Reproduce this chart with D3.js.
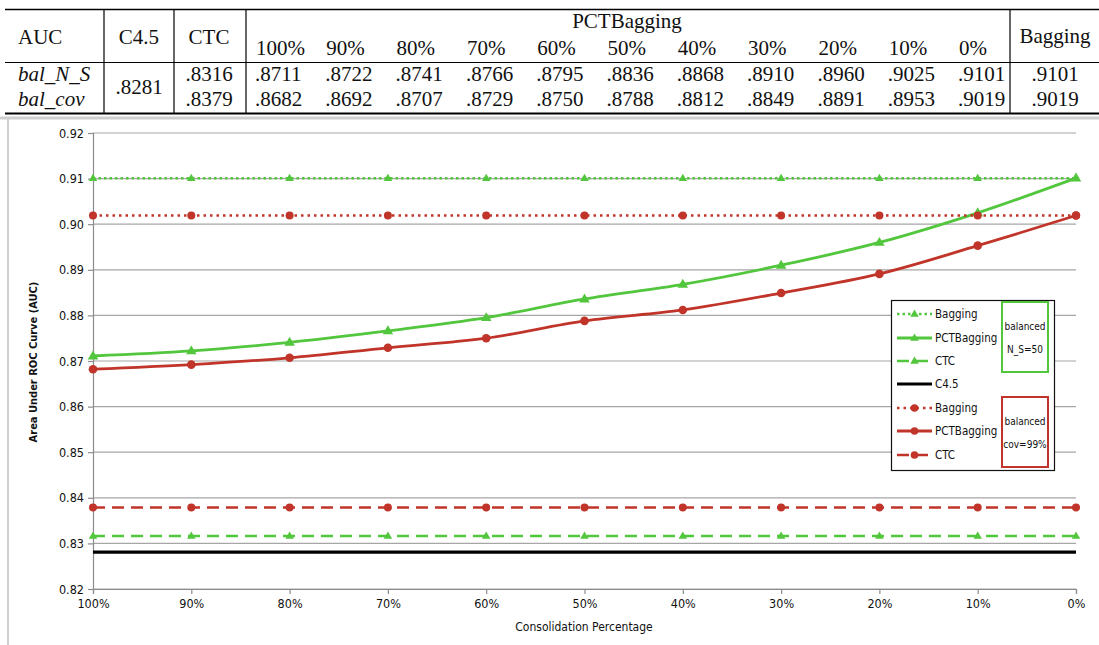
<!DOCTYPE html>
<html>
<head>
<meta charset="utf-8">
<script src="https://cdn.jsdelivr.net/npm/d3@7"></script>
<style>
  body { margin: 0; background: #fff; }
  svg { display: block; }
</style>
</head>
<body>
<div id="chart"></div>
<script>
// data
const categories = ["100%", "90%", "80%", "70%", "60%", "50%", "40%", "30%", "20%", "10%", "0%"];
const rowLabels = ["bal_N_S", "bal_cov"];
const c45Value = 0.8281;
const ctcValues = [0.8316, 0.8379];
const pctBalNS = [0.8711, 0.8722, 0.8741, 0.8766, 0.8795, 0.8836, 0.8868, 0.8910, 0.8960, 0.9025, 0.9101];
const pctBalCov = [0.8682, 0.8692, 0.8707, 0.8729, 0.8750, 0.8788, 0.8812, 0.8849, 0.8891, 0.8953, 0.9019];
const baggingValues = [0.9101, 0.9019];
const yTicks = [0.82, 0.83, 0.84, 0.85, 0.86, 0.87, 0.88, 0.89, 0.90, 0.91, 0.92];

const green = "#52c63c";
const red = "#c1342a";
const fmt4 = v => d3.format(".4f")(v).replace(/^0/, "");

const svg = d3.select("#chart").append("svg")
  .attr("width", 1099)
  .attr("height", 645);
svg.append("rect").attr("width", 1099).attr("height", 645).attr("fill", "#fff");

// ---------- table ----------
const tbl = svg.append("g")
  .style("font-family", "'Liberation Serif', 'Times New Roman', serif")
  .style("font-size", "21px")
  .attr("fill", "#111");

const colX = d3.scaleLinear().domain([0, 10]).range([256, 959]);

tbl.append("line").attr("x1", 5).attr("x2", 1099).attr("y1", 9.5).attr("y2", 9.5)
  .attr("stroke", "#000").attr("stroke-width", 1.6);
tbl.append("line").attr("x1", 5).attr("x2", 1099).attr("y1", 62.5).attr("y2", 62.5)
  .attr("stroke", "#000").attr("stroke-width", 1.2);
tbl.append("line").attr("x1", 5).attr("x2", 1099).attr("y1", 113.5).attr("y2", 113.5)
  .attr("stroke", "#000").attr("stroke-width", 1.8);
[104, 174, 246, 1010].forEach(x => {
  tbl.append("line").attr("x1", x).attr("x2", x).attr("y1", 9.5).attr("y2", 113.5)
    .attr("stroke", "#000").attr("stroke-width", 1.2);
});

tbl.append("text").attr("x", 18).attr("y", 44).text("AUC");
tbl.append("text").attr("x", 139).attr("y", 44).attr("text-anchor", "middle").text("C4.5");
tbl.append("text").attr("x", 209).attr("y", 44).attr("text-anchor", "middle").text("CTC");
tbl.append("text").attr("x", 627).attr("y", 28).attr("text-anchor", "middle").text("PCTBagging");
tbl.append("text").attr("x", 1055).attr("y", 43).attr("text-anchor", "middle").text("Bagging");
tbl.selectAll("text.pct").data(categories).enter().append("text")
  .attr("class", "pct")
  .attr("x", (d, i) => colX(i))
  .attr("y", 55)
  .text(d => d);

const rowY = [81, 106];
rowLabels.forEach((lab, r) => {
  tbl.append("text").attr("x", 18).attr("y", rowY[r]).style("font-style", "italic").text(lab);
  tbl.append("text").attr("x", 209).attr("y", rowY[r]).attr("text-anchor", "middle").text(fmt4(ctcValues[r]));
  tbl.append("text").attr("x", 1055).attr("y", rowY[r]).attr("text-anchor", "middle").text(fmt4(baggingValues[r]));
  tbl.selectAll("text.v" + r).data(r === 0 ? pctBalNS : pctBalCov).enter().append("text")
    .attr("class", "v" + r)
    .attr("x", (d, i) => colX(i) - 1)
    .attr("y", rowY[r])
    .text(d => fmt4(d));
});
tbl.append("text").attr("x", 139).attr("y", 94).attr("text-anchor", "middle").text(fmt4(c45Value));

// ---------- chart frame ----------
svg.append("line").attr("x1", 0).attr("x2", 1099).attr("y1", 118).attr("y2", 118)
  .attr("stroke", "#cfcfcf").attr("stroke-width", 3);
svg.append("line").attr("x1", 8).attr("x2", 8).attr("y1", 118).attr("y2", 645)
  .attr("stroke", "#cfcfcf").attr("stroke-width", 2);

// ---------- chart ----------
const chartFont = "'DejaVu Sans Condensed', 'Liberation Sans Narrow', 'DejaVu Sans', sans-serif";
const x = d3.scalePoint().domain(categories).range([93, 1076]);
const y = d3.scaleLinear().domain([0.82, 0.92]).range([589, 133]);

const plot = svg.append("g");

plot.selectAll("line.grid").data(yTicks).enter().append("line")
  .attr("class", "grid")
  .attr("x1", 93).attr("x2", 1076)
  .attr("y1", d => y(d)).attr("y2", d => y(d))
  .attr("stroke", "#a6a6a6").attr("stroke-width", 1.2);

const yAxis = plot.append("g")
  .attr("transform", "translate(93,0)")
  .call(d3.axisLeft(y).tickValues(yTicks).tickFormat(d3.format(".2f")).tickSize(5).tickPadding(4));
const xAxis = plot.append("g")
  .attr("transform", "translate(0,589)")
  .call(d3.axisBottom(x).tickSize(5).tickPadding(5));
[yAxis, xAxis].forEach(a => {
  a.select(".domain").attr("stroke", "#8c8c8c").attr("stroke-width", 1.2);
  a.selectAll(".tick line").attr("stroke", "#8c8c8c").attr("stroke-width", 1.2);
  a.selectAll("text").attr("fill", "#111").style("font-family", chartFont).style("font-size", "12.5px");
});

svg.append("text")
  .attr("transform", "translate(37,362) rotate(-90)")
  .attr("text-anchor", "middle")
  .style("font-family", chartFont)
  .style("font-size", "11px")
  .style("font-weight", "bold")
  .attr("fill", "#111")
  .text("Area Under ROC Curve (AUC)");
svg.append("text")
  .attr("x", 584).attr("y", 631)
  .attr("text-anchor", "middle")
  .style("font-family", chartFont)
  .style("font-size", "12px")
  .attr("fill", "#111")
  .text("Consolidation Percentage");

const series = [
  { name: "Bagging", values: categories.map(() => baggingValues[0]), color: green, dash: "2.5,3", marker: "tri", size: 8.5, curve: d3.curveLinear, width: 2.5 },
  { name: "PCTBagging", values: pctBalNS, color: green, dash: null, marker: "tri", size: 10.5, curve: d3.curveCatmullRom, width: 2.8 },
  { name: "CTC", values: categories.map(() => ctcValues[0]), color: green, dash: "12,7", marker: "tri", size: 8.5, curve: d3.curveLinear, width: 2.5 },
  { name: "C4.5", values: categories.map(() => c45Value), color: "#000", dash: null, marker: null, size: 0, curve: d3.curveLinear, width: 3.2 },
  { name: "Bagging", values: categories.map(() => baggingValues[1]), color: red, dash: "2.5,4", marker: "circle", size: 4, curve: d3.curveLinear, width: 2.5 },
  { name: "PCTBagging", values: pctBalCov, color: red, dash: null, marker: "circle", size: 4.3, curve: d3.curveCatmullRom, width: 2.8 },
  { name: "CTC", values: categories.map(() => ctcValues[1]), color: red, dash: "12,7", marker: "circle", size: 4, curve: d3.curveLinear, width: 2.5 }
];

function triPath(s) {
  const h = s * 0.85;
  return `M0,${-h * 0.62}L${s / 2},${h * 0.38}L${-s / 2},${h * 0.38}Z`;
}

function drawMarker(g, m, cx, cy, color, size) {
  if (m === "tri") {
    g.append("path").attr("d", triPath(size)).attr("transform", `translate(${cx},${cy})`).attr("fill", color);
  } else if (m === "circle") {
    g.append("circle").attr("cx", cx).attr("cy", cy).attr("r", size).attr("fill", color);
  }
}

series.forEach(s => {
  const line = d3.line()
    .x((d, i) => x(categories[i]))
    .y(d => y(d))
    .curve(s.curve);
  const g = plot.append("g");
  g.append("path")
    .datum(s.values)
    .attr("d", line)
    .attr("fill", "none")
    .attr("stroke", s.color)
    .attr("stroke-width", s.width)
    .attr("stroke-dasharray", s.dash);
  if (s.marker) {
    s.values.forEach((v, i) => drawMarker(g, s.marker, x(categories[i]), y(v), s.color, s.size));
  }
});

// ---------- legend ----------
const lg = svg.append("g").style("font-family", chartFont).style("font-size", "11.5px");
lg.append("rect").attr("x", 891.5).attr("y", 300.5).attr("width", 163).attr("height", 170)
  .attr("fill", "#fff").attr("stroke", "#111").attr("stroke-width", 1.2);
const legendY = [314, 338, 361, 384, 408, 431, 455];
series.forEach((s, i) => {
  const ly = legendY[i];
  lg.append("line").attr("x1", 897).attr("x2", 932).attr("y1", ly).attr("y2", ly)
    .attr("stroke", s.color).attr("stroke-width", s.width).attr("stroke-dasharray", s.dash);
  if (s.marker) drawMarker(lg, s.marker, 914.5, ly, s.color, s.marker === "tri" ? 8.5 : 3.8);
  lg.append("text").attr("x", 935).attr("y", ly + 4).attr("fill", "#111").text(s.name);
});
const groups = [
  { y0: 302, color: green, lines: ["balanced", "N_S=50"] },
  { y0: 397, color: red, lines: ["balanced", "cov=99%"] }
];
groups.forEach(gp => {
  lg.append("rect").attr("x", 1002).attr("y", gp.y0).attr("width", 46).attr("height", 70)
    .attr("fill", "#fff").attr("stroke", gp.color).attr("stroke-width", 2);
  gp.lines.forEach((t, k) => {
    lg.append("text").attr("x", 1025).attr("y", gp.y0 + 28 + k * 23)
      .attr("text-anchor", "middle").style("font-size", "10px").attr("fill", "#111").text(t);
  });
});
</script>
</body>
</html>
